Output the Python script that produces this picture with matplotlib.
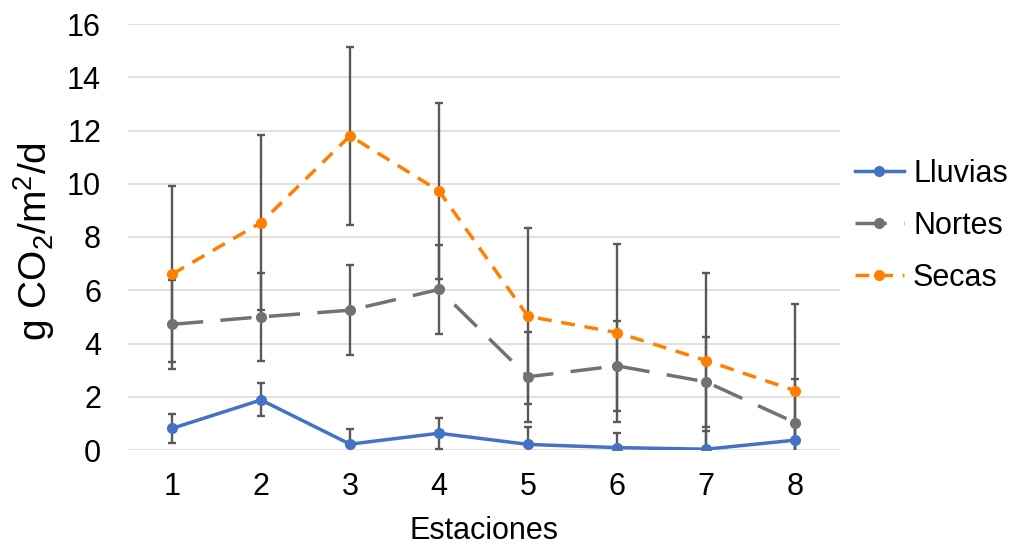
import numpy as np
import matplotlib
matplotlib.use("Agg")
import matplotlib.pyplot as plt

plt.rcParams['font.family'] = ['Liberation Sans', 'DejaVu Sans']
plt.rcParams['mathtext.default'] = 'regular'

# data
estaciones = [1, 2, 3, 4, 5, 6, 7, 8]
lluvias = [0.81, 1.88, 0.22, 0.63, 0.21, 0.09, 0.03, 0.37]
lluvias_err = [0.55, 0.62, 0.56, 0.58, 0.64, 0.53, 0.70, 0.60]
nortes = [4.72, 5.00, 5.25, 6.03, 2.75, 3.16, 2.56, 1.03]
nortes_err = [1.68, 1.65, 1.68, 1.68, 1.68, 1.68, 1.70, 1.63]
secas = [6.60, 8.54, 11.80, 9.73, 5.02, 4.41, 3.36, 2.23]
secas_err = [3.30, 3.30, 3.35, 3.30, 3.30, 3.34, 3.27, 3.25]

fig = plt.figure(figsize=(10.15, 5.46), dpi=100)
ax = fig.add_axes([127.5 / 1015, 1 - 450 / 546, 712 / 1015, 426 / 546])

series = [
    ('Lluvias', lluvias, lluvias_err, '#4472C4', '-'),
    ('Nortes', nortes, nortes_err, '#767171', (0, (9, 5))),
    ('Secas', secas, secas_err, '#FF8000', (0, (4, 2.8))),
]

for i, (name, vals, err, col, ls) in enumerate(series):
    ax.errorbar(estaciones, vals, yerr=err, fmt='none', ecolor='#595959',
                elinewidth=1.7, capsize=3, capthick=1.7, zorder=2)
    ax.plot(estaciones, vals, color=col, linestyle=ls, linewidth=2.5,
            marker='o', markersize=7, label=name, zorder=3 + i)

ax.set_xlim(0.5, 8.5)
ax.set_ylim(0, 16)
ax.set_yticks(np.arange(0, 17, 2))
ax.set_xticks(estaciones)
ax.grid(axis='y', color='#d9d9d9', linewidth=1.1, zorder=0)
ax.set_axisbelow(True)
for s in ax.spines.values():
    s.set_visible(False)
ax.tick_params(length=0, labelsize=22, colors='#000000')
ax.tick_params(axis='y', pad=19)
ax.tick_params(axis='x', pad=16)

ax.set_ylabel('g CO$_2$/m$^2$/d', fontsize=28, va='center')
ax.yaxis.set_label_coords(-0.131, 0.49)
ax.set_xlabel('Estaciones', fontsize=22, va='center')
ax.xaxis.set_label_coords(0.5, -0.19)

fig.legend(loc='center left', bbox_to_anchor=(855 / 1015, 1 - 226 / 546),
           frameon=False, fontsize=22, borderpad=0, borderaxespad=0,
           handlelength=1.6, handletextpad=0.3, labelspacing=0.72)

fig.savefig('out.png', dpi=100)
